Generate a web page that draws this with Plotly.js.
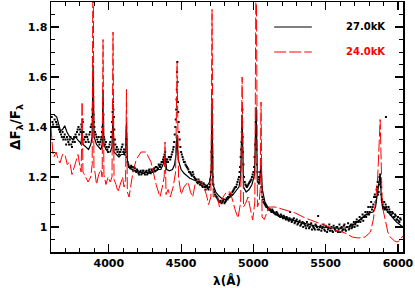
<!DOCTYPE html>
<html><head><meta charset="utf-8">
<script src="https://cdn.plot.ly/plotly-3.0.1.min.js"></script>
<style>html,body{margin:0;padding:0;background:#fff}#c{width:415px;height:288px}</style>
</head><body><div id="c"></div>
<script>
// Observed spectrum (dots), first pass
const obsWl = [3610,3625,3640,3655,3670,3680,3690,3700,3710,3720,3730,3740,3750,3760,3770,3780,3790,3800,3810,3818,3825,3835,3845,3855,3865,3875,3883,3891,3897,3905,3915,3925,3935,3945,3952,3960,3966,3975,3985,3995,4005,4015,4022,4029,4035,4042,4050,4060,4070,4080,4090,4100,4110,4118,4125,4135,4145,4155,4165,4175,4185,4195,4205,4215,4225,4235,4245,4255,4265,4275,4285,4295,4305,4315,4325,4335,4345,4355,4365,4375,4385,4395,4405,4415,4425,4435,4445,4452,4460,4466,4470,4472,4474,4478,4483,4490,4500,4510,4520,4530,4540,4550,4560,4570,4580,4590,4600,4610,4620,4630,4640,4650,4660,4670,4680,4690,4700,4706,4714,4720,4728,4735,4745,4755,4765,4775,4785,4795,4805,4815,4825,4835,4845,4855,4865,4875,4885,4895,4905,4912,4918,4922,4924,4928,4935,4945,4955,4965,4975,4985,4995,5005,5012,5019,5025,5033,5040,5048,5055,5062,5070,5080,5090,5100,5110,5120,5130,5140,5150,5160,5170,5180,5190,5200,5210,5220,5230,5240,5250,5254,5260,5270,5280,5290,5300,5310,5320,5330,5340,5350,5360,5370,5380,5390,5400,5410,5420,5430,5440,5448,5455,5465,5475,5485,5495,5505,5515,5525,5535,5545,5555,5565,5575,5585,5595,5605,5615,5625,5635,5645,5655,5665,5675,5685,5695,5705,5715,5725,5735,5745,5755,5765,5775,5785,5795,5805,5815,5825,5835,5845,5852,5860,5866,5872,5877,5882,5888,5895,5905,5910,5917,5920,5930,5940,5950,5960,5970,5980,5990,6000,6010,6020];
const obsVal = [1.42,1.43,1.41,1.39,1.37,1.38,1.36,1.35,1.36,1.34,1.35,1.33,1.34,1.36,1.37,1.38,1.40,1.39,1.41,1.43,1.38,1.36,1.37,1.35,1.37,1.40,1.44,1.52,1.42,1.38,1.36,1.34,1.33,1.35,1.38,1.42,1.36,1.33,1.32,1.30,1.33,1.36,1.42,1.50,1.44,1.35,1.31,1.30,1.29,1.30,1.32,1.30,1.29,1.33,1.28,1.25,1.24,1.245,1.23,1.24,1.225,1.23,1.215,1.22,1.21,1.225,1.215,1.22,1.21,1.225,1.22,1.23,1.22,1.235,1.24,1.23,1.25,1.24,1.26,1.27,1.29,1.26,1.27,1.28,1.27,1.29,1.31,1.34,1.40,1.47,1.55,1.62,1.66,1.50,1.42,1.35,1.30,1.28,1.26,1.25,1.24,1.23,1.22,1.21,1.22,1.20,1.19,1.18,1.19,1.17,1.18,1.16,1.17,1.15,1.16,1.15,1.17,1.22,1.45,1.20,1.15,1.13,1.12,1.11,1.10,1.105,1.10,1.11,1.10,1.115,1.12,1.13,1.125,1.14,1.15,1.16,1.17,1.19,1.22,1.28,1.34,1.42,1.47,1.30,1.20,1.17,1.16,1.17,1.18,1.19,1.21,1.24,1.33,1.38,1.25,1.20,1.18,1.22,1.16,1.12,1.10,1.09,1.08,1.075,1.07,1.065,1.07,1.06,1.055,1.06,1.05,1.045,1.05,1.04,1.045,1.035,1.04,1.03,1.035,1.06,1.03,1.025,1.035,1.02,1.03,1.015,1.025,1.01,1.02,1.015,1.005,1.02,1.01,1.0,1.015,1.005,0.995,1.01,1.0,1.044,0.99,1.005,0.995,1.01,0.985,1.0,0.99,1.01,0.995,0.985,1.005,0.99,1.0,0.98,1.01,0.995,0.985,1.005,0.99,1.0,1.015,0.995,1.01,1.0,1.02,1.01,1.03,1.02,1.04,1.03,1.05,1.04,1.06,1.05,1.08,1.06,1.10,1.08,1.12,1.10,1.15,1.18,1.14,1.20,1.21,1.16,1.11,1.09,1.10,1.07,1.44,1.08,1.06,1.07,1.05,1.06,1.04,1.05,1.03,1.04,1.02,1.03];

// Observed spectrum (dots), interleaved second pass
const obs2Wl = [3605,3615,3635,3645,3662,3675,3685,3695,3705,3715,3725,3735,3745,3755,3765,3775,3785,3795,3805,3813,3820,3830,3840,3850,3860,3870,3880,3887,3894,3900,3910,3920,3930,3940,3948,3956,3963,3970,3980,3990,4000,4010,4018,4026,4032,4038,4045,4055,4065,4075,4085,4095,4105,4115,4122,4130,4140,4150,4160,4170,4180,4190,4200,4210,4220,4230,4240,4250,4260,4270,4280,4290,4300,4310,4320,4330,4340,4350,4360,4370,4380,4390,4400,4410,4420,4430,4440,4448,4456,4463,4468,4476,4480,4486,4495,4505,4515,4525,4535,4545,4555,4565,4575,4585,4595,4605,4615,4625,4635,4645,4655,4665,4675,4685,4695,4703,4710,4717,4724,4731,4740,4750,4760,4770,4780,4790,4800,4810,4820,4830,4840,4850,4860,4870,4880,4890,4900,4908,4915,4920,4926,4931,4940,4950,4960,4970,4980,4990,5000,5008,5016,5022,5029,5036,5044,5051,5058,5066,5075,5085,5095,5105,5115,5125,5135,5145,5155,5165,5175,5185,5195,5205,5215,5225,5235,5245,5255,5265,5275,5285,5295,5305,5315,5325,5335,5345,5355,5365,5375,5385,5395,5405,5415,5425,5435,5445,5460,5470,5480,5490,5500,5510,5520,5530,5540,5550,5560,5570,5580,5590,5600,5610,5620,5630,5640,5650,5660,5670,5680,5690,5700,5710,5720,5730,5740,5750,5760,5770,5780,5790,5800,5810,5820,5830,5840,5848,5856,5863,5869,5875,5880,5885,5892,5900,5915,5925,5935,5945,5955,5965,5975,5985,5995,6005,6015];
const obs2Val = [1.44,1.41,1.42,1.40,1.38,1.36,1.35,1.37,1.33,1.35,1.33,1.36,1.32,1.35,1.34,1.36,1.39,1.37,1.38,1.40,1.42,1.35,1.34,1.36,1.34,1.38,1.41,1.47,1.45,1.40,1.37,1.35,1.36,1.34,1.36,1.40,1.45,1.35,1.34,1.31,1.32,1.34,1.38,1.46,1.47,1.39,1.33,1.32,1.31,1.30,1.31,1.33,1.31,1.30,1.35,1.26,1.24,1.235,1.24,1.225,1.235,1.22,1.225,1.21,1.225,1.215,1.225,1.21,1.225,1.215,1.23,1.215,1.225,1.23,1.225,1.24,1.235,1.245,1.25,1.26,1.28,1.30,1.27,1.26,1.28,1.28,1.30,1.32,1.37,1.43,1.51,1.58,1.46,1.38,1.32,1.29,1.27,1.26,1.245,1.235,1.22,1.215,1.205,1.21,1.195,1.19,1.175,1.18,1.17,1.165,1.175,1.16,1.165,1.155,1.16,1.19,1.30,1.28,1.17,1.14,1.125,1.115,1.105,1.10,1.095,1.105,1.095,1.105,1.11,1.12,1.13,1.13,1.145,1.155,1.16,1.18,1.20,1.24,1.31,1.38,1.36,1.25,1.18,1.165,1.165,1.175,1.185,1.20,1.22,1.28,1.42,1.31,1.22,1.19,1.20,1.20,1.14,1.11,1.095,1.085,1.08,1.07,1.07,1.06,1.065,1.055,1.05,1.055,1.045,1.04,1.045,1.035,1.04,1.03,1.035,1.025,1.03,1.02,1.03,1.015,1.025,1.01,1.02,1.005,1.015,1.0,1.01,0.995,1.005,0.995,1.01,0.99,1.0,0.99,1.005,0.99,1.0,0.985,1.0,0.99,1.005,0.98,0.995,0.985,1.0,0.98,0.995,0.985,1.0,0.99,0.98,1.0,0.99,1.01,0.985,1.0,0.99,1.005,0.995,1.01,1.0,1.02,1.005,1.025,1.02,1.035,1.025,1.045,1.04,1.06,1.05,1.08,1.07,1.09,1.13,1.12,1.16,1.13,1.17,1.19,1.18,1.13,1.10,1.08,1.09,1.07,1.08,1.06,1.05,1.055,1.04,1.045,1.03,1.025,1.035];

// 27.0 kK model (black solid)
const m27Wl = [3600,3620,3640,3655,3665,3680,3695,3710,3730,3750,3770,3790,3800,3808,3815,3822,3845,3860,3875,3884,3891,3898,3915,3930,3945,3954,3960,3966,3980,3995,4010,4022,4029,4036,4055,4070,4085,4100,4115,4122,4129,4145,4160,4180,4200,4220,4240,4260,4280,4300,4320,4340,4360,4375,4389,4400,4420,4440,4455,4465,4472,4480,4500,4520,4540,4560,4580,4600,4620,4640,4660,4680,4697,4708,4714,4720,4740,4760,4780,4800,4820,4840,4860,4880,4900,4912,4922,4932,4950,4970,4990,5008,5019,5028,5040,5053,5062,5080,5100,5130,5170,5220,5280,5340,5400,5460,5520,5580,5640,5680,5710,5740,5773,5800,5828,5845,5860,5877,5885,5895,5910,5930,5960,5990,6035];
const m27Val = [1.45,1.45,1.44,1.40,1.385,1.39,1.405,1.38,1.36,1.35,1.36,1.345,1.34,1.33,1.39,1.33,1.32,1.31,1.33,1.36,1.65,1.36,1.33,1.32,1.31,1.33,1.55,1.33,1.31,1.30,1.30,1.32,1.44,1.30,1.29,1.28,1.29,1.29,1.30,1.42,1.26,1.235,1.23,1.225,1.22,1.22,1.215,1.22,1.215,1.22,1.22,1.23,1.23,1.25,1.29,1.23,1.225,1.23,1.25,1.29,1.37,1.27,1.23,1.215,1.205,1.195,1.19,1.185,1.18,1.175,1.17,1.165,1.18,1.22,1.51,1.17,1.14,1.125,1.115,1.11,1.11,1.12,1.13,1.145,1.16,1.20,1.45,1.16,1.14,1.15,1.17,1.21,1.48,1.18,1.17,1.25,1.15,1.10,1.08,1.06,1.045,1.035,1.025,1.015,1.008,1.0,0.997,0.995,0.997,1.005,1.016,1.03,1.048,1.055,1.06,1.08,1.15,1.21,1.12,1.07,1.08,1.06,1.04,1.02,1.0];

// 24.0 kK model (red dashed)
const m24Wl = [3600,3605,3612,3620,3635,3650,3662,3680,3697,3712,3730,3745,3765,3787,3800,3809,3815,3821,3840,3856,3875,3885,3891,3897,3904,3915,3930,3945,3954,3960,3966,3980,3995,4010,4022,4029,4036,4050,4063,4080,4095,4105,4116,4122,4128,4140,4155,4167,4190,4223,4257,4292,4327,4354,4370,4383,4389,4396,4410,4425,4445,4462,4472,4482,4500,4520,4548,4565,4580,4600,4625,4650,4675,4690,4706,4714,4722,4749,4765,4790,4815,4839,4860,4873,4894,4912,4922,4932,4950,4963,4980,4995,5010,5019,5028,5040,5047,5053,5060,5075,5095,5109,5150,5220,5290,5358,5455,5545,5565,5634,5683,5725,5773,5810,5830,5845,5860,5877,5890,5900,5912,5930,5946,5975,5994,6010,6035];
const m24Val = [1.40,1.36,1.30,1.28,1.30,1.27,1.256,1.29,1.29,1.25,1.26,1.21,1.25,1.29,1.24,1.22,1.50,1.22,1.20,1.18,1.20,1.25,2.30,1.23,1.22,1.17,1.21,1.23,1.20,1.75,1.21,1.17,1.20,1.18,1.20,1.78,1.19,1.17,1.14,1.17,1.20,1.16,1.19,1.55,1.14,1.12,1.17,1.22,1.27,1.30,1.30,1.26,1.17,1.12,1.16,1.20,1.34,1.13,1.15,1.12,1.16,1.22,1.66,1.20,1.13,1.16,1.18,1.14,1.12,1.18,1.19,1.17,1.13,1.09,1.12,1.87,1.12,1.13,1.08,1.12,1.14,1.14,1.10,1.07,1.036,1.10,1.60,1.08,1.10,1.12,1.07,1.028,1.10,2.20,1.08,1.10,1.15,1.50,1.04,1.03,1.06,1.08,1.08,1.068,1.056,1.036,1.016,0.996,0.988,0.976,0.96,0.956,0.96,0.98,1.03,1.10,1.20,1.43,1.12,1.06,1.03,0.98,0.96,0.945,0.94,0.945,0.965];

const xTitle = 'λ(Å)';
const yTitle = 'ΔF<sub>λ</sub>/F<sub>λ</sub>';
const legendNames = ['27.0kK', '24.0kK'];

const FONT = 'DejaVu Sans, sans-serif';
const dotStyle = {color: '#000', size: 2, symbol: 'square', line: {width: 0}};
const traces = [
  {x: obsWl, y: obsVal, mode: 'markers', type: 'scatter', marker: dotStyle},
  {x: obs2Wl, y: obs2Val, mode: 'markers', type: 'scatter', marker: dotStyle},
  {x: m27Wl, y: m27Val, mode: 'lines', type: 'scatter',
   line: {color: '#000', width: 1.2}},
  {x: m24Wl, y: m24Val, mode: 'lines', type: 'scatter',
   line: {color: '#ff0000', width: 1, dash: '12px,3px'}}
];

const axisCommon = {
  showgrid: false, zeroline: false, showline: true, linecolor: '#000', linewidth: 1.5,
  mirror: 'ticks', ticks: 'inside', ticklen: 8, tickwidth: 1.2, tickcolor: '#000',
  tickfont: {family: FONT, size: 11, color: '#000', weight: 'bold'}
};

const layout = {
  width: 415, height: 288,
  margin: {l: 51, r: 12, t: 2, b: 36},
  paper_bgcolor: '#fff', plot_bgcolor: '#fff',
  showlegend: false,
  xaxis: Object.assign({}, axisCommon, {
    range: [3600, 6035], dtick: 500, tick0: 0,
    minor: {dtick: 100, ticks: 'inside', ticklen: 4, tickwidth: 1, tickcolor: '#000'},
    title: {text: xTitle, font: {family: FONT, size: 12, color: '#000', weight: 'bold'}, standoff: 11}
  }),
  yaxis: Object.assign({}, axisCommon, {
    range: [0.9, 1.9], dtick: 0.2, tick0: 0,
    minor: {dtick: 0.05, ticks: 'inside', ticklen: 4, tickwidth: 1, tickcolor: '#000'},
    title: {text: yTitle, font: {family: FONT, size: 13.5, color: '#000', weight: 'bold'}, standoff: 4}
  }),
  shapes: [
    {type: 'line', xref: 'paper', yref: 'paper', x0: 0.634, x1: 0.741, y0: 0.9, y1: 0.9,
     line: {color: '#000', width: 1.2}},
    {type: 'line', xref: 'paper', yref: 'paper', x0: 0.634, x1: 0.741, y0: 0.8, y1: 0.8,
     line: {color: '#ff0000', width: 1, dash: '12px,3px'}}
  ],
  annotations: [
    {xref: 'paper', yref: 'paper', x: 0.832, y: 0.9, xanchor: 'left', yanchor: 'middle',
     text: legendNames[0], showarrow: false, font: {family: FONT, size: 10, color: '#000', weight: 'bold'}},
    {xref: 'paper', yref: 'paper', x: 0.832, y: 0.8, xanchor: 'left', yanchor: 'middle',
     text: legendNames[1], showarrow: false, font: {family: FONT, size: 10, color: '#ff0000', weight: 'bold'}}
  ]
};

Plotly.newPlot('c', traces, layout, {staticPlot: true, displayModeBar: false});
</script></body></html>
